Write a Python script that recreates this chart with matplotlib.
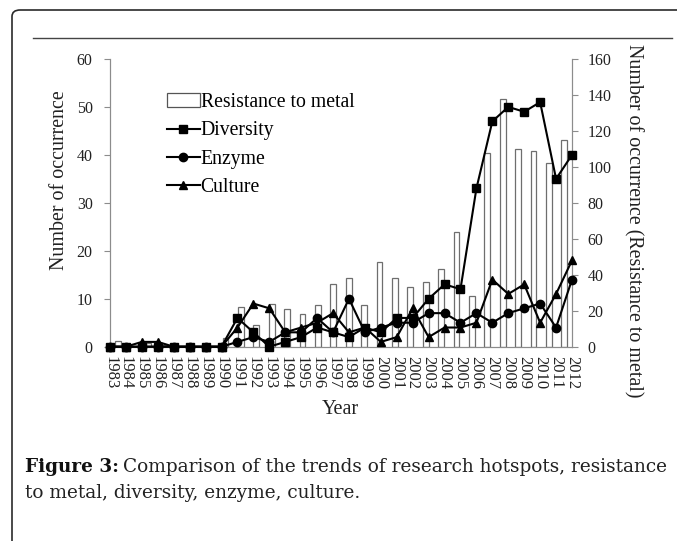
import numpy as np
import matplotlib
matplotlib.use("Agg")
import matplotlib.pyplot as plt
from matplotlib.patches import Rectangle, FancyBboxPatch
from matplotlib.lines import Line2D

years = [str(y) for y in range(1983, 2013)]
resistance = [3, 0, 2, 1, 0, 0, 0, 5, 22, 12, 24, 21, 18, 23, 35, 38, 23, 47, 38, 33,
              36, 43, 64, 28, 108, 138, 110, 109, 102, 115]
diversity = [0, 0, 0, 0, 0, 0, 0, 0, 6, 3, 0, 1, 2, 4, 3, 2, 4, 3, 6, 6,
             10, 13, 12, 33, 47, 50, 49, 51, 35, 40]
enzyme = [0, 0, 0, 0, 0, 0, 0, 0, 1, 2, 1, 3, 3, 6, 3, 10, 3, 4, 5, 5,
          7, 7, 5, 7, 5, 7, 8, 9, 4, 14]
culture = [0, 0, 1, 1, 0, 0, 0, 0, 4, 9, 8, 3, 4, 5, 7, 3, 4, 1, 2, 8,
           2, 4, 4, 5, 14, 11, 13, 5, 11, 18]
left_ticks = [0, 10, 20, 30, 40, 50, 60]
right_ticks = [0, 20, 40, 60, 80, 100, 120, 140, 160]

SERIF = ["Liberation Serif", "DejaVu Serif"]
plt.rcParams["font.family"] = SERIF

W, H = 677, 541
fig = plt.figure(figsize=(W / 100, H / 100), dpi=100)

# page frame
frame = FancyBboxPatch((12 / W, -0.2), 1.2, (H - 10) / H + 0.2,
                       boxstyle="round,pad=0,rounding_size=0.012",
                       transform=fig.transFigure, fill=False,
                       edgecolor="#2a2a2a", linewidth=1.2)
fig.patches.append(frame)
fig.add_artist(Line2D([33 / W, 672 / W], [1 - 38 / H, 1 - 38 / H],
                      transform=fig.transFigure, color="#444444", linewidth=1.0))

left, right, top, bottom = 110, 572, 59, 346.7
ax = fig.add_axes([left / W, 1 - bottom / H, (right - left) / W, (bottom - top) / H])
ax2 = ax.twinx()

n = len(years)
x_line = np.arange(n)
x_bar = (np.arange(n) + 0.5) * (n - 1) / n

gray = "#8c8c8c"
ax2.bar(x_bar, resistance, width=0.36, facecolor="white", edgecolor="#6e6e6e",
        linewidth=0.9, zorder=1)
ax2.set_ylim(0, 160)
ax2.set_yticks(right_ticks)

ax.set_zorder(ax2.get_zorder() + 1)
ax.patch.set_visible(False)

ms = 6.0
ax.plot(x_line, diversity, color="black", lw=1.5, marker="s", ms=ms, clip_on=False, zorder=3)
ax.plot(x_line, enzyme, color="black", lw=1.5, marker="o", ms=ms, clip_on=False, zorder=3)
ax.plot(x_line, culture, color="black", lw=1.5, marker="^", ms=ms, clip_on=False, zorder=3)
ax.set_xlim(0, n - 1)
ax.set_ylim(0, 60)
ax.set_yticks(left_ticks)
ax.set_xticks(x_line)
ax.set_xticklabels(years, rotation=-90, fontsize=12)
ax.tick_params(axis="x", length=0, pad=7)

for a in (ax, ax2):
    for s in a.spines.values():
        s.set_color(gray)
        s.set_linewidth(0.8)
    a.spines["top"].set_visible(False)
    a.tick_params(axis="y", color=gray, length=4, width=0.8, labelsize=11.5, labelcolor="#222222")
ax.tick_params(axis="y", pad=8.5)
ax2.tick_params(axis="y", pad=7)
ax.tick_params(axis="x", labelcolor="#222222")

ax.set_ylabel("Number of occurrence", fontsize=14.4, color="#222222", va="center")
ax.yaxis.set_label_coords(-(110 - 59) / (right - left), (bottom - 180) / (bottom - top))
ax2.set_ylabel("Number of occurrence (Resistance to metal)", fontsize=14.4,
               rotation=-90, color="#222222", va="center")
ax2.yaxis.set_label_coords(1 + (633 - right) / (right - left), (bottom - 221) / (bottom - top))
ax.set_xlabel("Year", fontsize=14.5, color="#222222")
ax.xaxis.set_label_coords((340 - left) / (right - left), -(410 - bottom) / (bottom - top))
ax.xaxis.label.set_va("center")

handles = [
    Rectangle((0, 0), 1, 1, facecolor="white", edgecolor="#555555", linewidth=0.9),
    Line2D([], [], color="black", lw=1.5, marker="s", ms=ms),
    Line2D([], [], color="black", lw=1.5, marker="o", ms=ms),
    Line2D([], [], color="black", lw=1.5, marker="^", ms=ms),
]
labels = ["Resistance to metal", "Diversity", "Enzyme", "Culture"]
fig.legend(handles, labels, loc="upper left", bbox_to_anchor=(167 / W, 1 - 93 / H),
           frameon=False, fontsize=14.2, handlelength=1.65, handletextpad=0.05,
           labelspacing=0.48, borderpad=0, borderaxespad=0, markerscale=1.0)

# caption
CAP = ["DejaVu Serif"]
fs_cap = 13.3
y1 = 1 - 467 / H
y2 = 1 - 493 / H
t_bold = fig.text(25 / W, y1, "Figure 3:", fontsize=fs_cap, fontweight="bold",
                  va="center", ha="left", color="#111111", family=CAP)
fig.canvas.draw()
bb = t_bold.get_window_extent(renderer=fig.canvas.get_renderer())
fig.text(bb.x1 / W + 4 / W, y1,
         "Comparison of the trends of research hotspots, resistance",
         fontsize=fs_cap, va="center", ha="left", color="#222222", family=CAP)
fig.text(25 / W, y2, "to metal, diversity, enzyme, culture.",
         fontsize=fs_cap, va="center", ha="left", color="#222222", family=CAP)

fig.savefig("out.png", dpi=100)
